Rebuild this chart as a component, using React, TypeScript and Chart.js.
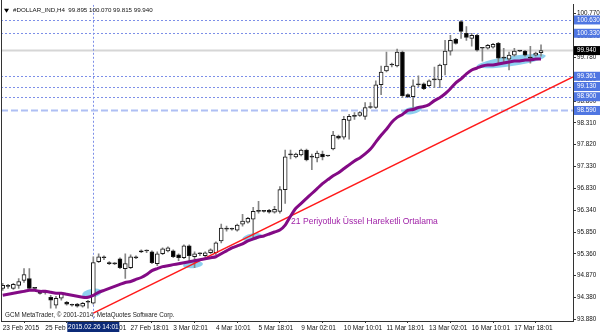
import React, { useEffect, useRef } from "react";
import { Chart, registerables } from "chart.js";
Chart.register(...registerables);

// ---- data (H4 candles, #DOLLAR_IND) ----
const OPEN = [
  94.581, 94.626, 94.581, 94.648, 94.759, 94.804, 94.581, 94.514, 94.492, 94.381,
  94.203, 94.359, 94.269, 94.203, 94.225, 94.180, 94.269, 94.247, 95.183, 95.271,
  95.160, 95.138, 95.249, 95.027, 95.049, 95.271, 95.427, 95.427, 95.405, 95.138,
  95.361, 95.427, 95.427, 95.338, 95.271, 95.539, 95.294, 95.361, 95.316, 95.383,
  95.383, 95.650, 95.917, 95.917, 95.895, 96.029, 96.073, 96.140, 96.318, 96.318,
  96.341, 96.296, 96.318, 96.808, 97.588, 97.543, 97.588, 97.699, 97.543, 97.521,
  97.610, 97.565, 97.721, 98.011, 97.989, 98.367, 98.456, 98.479, 98.456, 98.657,
  98.657, 99.169, 99.481, 99.614, 99.592, 99.904, 98.946, 98.901, 99.169, 99.192,
  99.147, 99.280, 99.280, 99.614, 99.926, 100.193, 100.594, 100.327, 100.216, 100.282,
  99.993, 99.993, 100.015, 100.104, 99.770, 99.748, 99.837, 99.926, 99.926, 99.770,
  99.837, 99.895,
];
const HIGH = [
  94.693, 94.670, 94.693, 94.804, 95.027, 95.027, 94.604, 94.537, 94.537, 94.425,
  94.403, 94.492, 94.292, 94.225, 94.247, 94.269, 94.314, 95.294, 95.361, 95.316,
  95.183, 95.160, 95.271, 95.361, 95.338, 95.316, 95.450, 95.450, 95.427, 95.405,
  95.494, 95.517, 95.450, 95.361, 95.561, 95.561, 95.405, 95.383, 95.405, 95.472,
  95.628, 96.029, 95.984, 95.940, 96.029, 96.251, 96.185, 96.407, 96.541, 96.341,
  96.363, 96.430, 96.875, 97.699, 97.699, 97.632, 97.721, 97.721, 97.610, 97.677,
  97.677, 97.575, 98.122, 98.033, 98.456, 98.501, 98.545, 98.567, 98.768, 98.768,
  99.258, 99.592, 99.904, 99.659, 99.971, 99.926, 98.967, 99.280, 99.369, 99.213,
  99.280, 99.570, 99.636, 100.171, 100.282, 100.216, 100.616, 100.483, 100.327, 100.305,
  100.015, 100.082, 100.104, 100.126, 99.993, 99.904, 99.993, 99.935, 99.948, 100.037,
  99.904, 100.070,
];
const LOW = [
  94.537, 94.581, 94.559, 94.581, 94.715, 94.537, 94.537, 94.448, 94.448, 94.136,
  94.136, 94.314, 94.203, 94.180, 94.158, 94.158, 94.136, 94.225, 95.160, 95.227,
  95.116, 95.116, 95.027, 94.804, 95.027, 95.249, 95.383, 95.383, 95.138, 95.093,
  95.338, 95.405, 95.271, 95.205, 95.249, 95.205, 95.049, 95.316, 95.294, 95.361,
  95.338, 95.606, 95.873, 95.895, 95.873, 95.984, 96.051, 95.717, 96.274, 96.296,
  96.274, 96.274, 96.274, 96.496, 97.499, 97.521, 97.565, 97.454, 97.254, 97.432,
  97.476, 97.555, 97.699, 97.944, 97.944, 97.944, 98.389, 98.456, 98.389, 98.634,
  98.634, 98.946, 99.458, 99.570, 99.570, 98.879, 98.879, 98.590, 99.124, 99.058,
  99.124, 99.102, 99.102, 99.392, 99.837, 100.082, 100.216, 100.171, 100.037, 99.926,
  99.703, 99.971, 99.993, 99.659, 99.659, 99.503, 99.815, 99.915, 99.815, 99.659,
  99.815, 99.815,
];
const CLOSE = [
  94.648, 94.630, 94.670, 94.737, 94.893, 94.581, 94.585, 94.470, 94.488, 94.314,
  94.359, 94.470, 94.225, 94.200, 94.180, 94.247, 94.272, 95.160, 95.294, 95.275,
  95.138, 95.135, 95.049, 95.138, 95.294, 95.268, 95.405, 95.424, 95.160, 95.361,
  95.472, 95.494, 95.294, 95.271, 95.539, 95.316, 95.361, 95.365, 95.383, 95.450,
  95.606, 95.940, 95.920, 95.913, 96.007, 96.096, 96.162, 96.318, 96.322, 96.315,
  96.296, 96.363, 96.808, 97.543, 97.592, 97.610, 97.699, 97.476, 97.540, 97.632,
  97.543, 97.570, 98.033, 97.966, 98.389, 98.456, 98.460, 98.545, 98.657, 98.660,
  99.169, 99.458, 99.592, 99.618, 99.904, 98.924, 98.901, 99.147, 99.172, 99.080,
  99.258, 99.284, 99.614, 99.926, 100.171, 100.104, 100.371, 100.238, 100.282, 99.948,
  99.996, 100.060, 100.082, 99.770, 99.774, 99.837, 99.926, 99.930, 99.837, 99.774,
  99.882, 99.940,
];
const EMA21 = [
  94.425, 94.448, 94.470, 94.492, 94.514, 94.537, 94.537, 94.514, 94.514, 94.492,
  94.470, 94.470, 94.448, 94.425, 94.403, 94.381, 94.381, 94.425, 94.492, 94.537,
  94.581, 94.626, 94.670, 94.715, 94.737, 94.782, 94.826, 94.893, 94.982, 95.027,
  95.071, 95.093, 95.116, 95.138, 95.160, 95.183, 95.205, 95.227, 95.249, 95.271,
  95.294, 95.361, 95.427, 95.494, 95.539, 95.583, 95.650, 95.695, 95.739, 95.762,
  95.806, 95.851, 95.895, 96.007, 96.207, 96.385, 96.496, 96.608, 96.719, 96.830,
  96.942, 97.031, 97.120, 97.187, 97.276, 97.365, 97.454, 97.521, 97.610, 97.721,
  97.877, 98.033, 98.167, 98.323, 98.434, 98.501, 98.590, 98.612, 98.657, 98.679,
  98.723, 98.812, 98.879, 98.967, 99.080, 99.213, 99.302, 99.414, 99.503, 99.547,
  99.592, 99.614, 99.614, 99.636, 99.659, 99.681, 99.703, 99.703, 99.726, 99.726,
  99.748, 99.748,
];

const X_TICKS = [0, 8, 16, 24, 32, 40, 48, 56, 64, 72, 80, 88, 96];
const X_LABELS = [
  "23 Feb 2015", "25 Feb 02:01", "26 Feb 10:01", "27 Feb 18:01", "3 Mar 02:01",
  "4 Mar 10:01", "5 Mar 18:01", "9 Mar 02:01", "10 Mar 10:01", "11 Mar 18:01",
  "13 Mar 02:01", "16 Mar 10:01", "17 Mar 18:01",
];
const Y_TICKS = [
  93.88, 94.38, 94.87, 95.36, 95.85, 96.34, 96.83, 97.33, 97.82, 98.31,
  98.8, 99.29, 99.78, 100.27, 100.77,
];
const X_MIN = -0.32;
const X_MAX = 107;
const Y_MIN = 93.846;
const Y_MAX = 100.972;

const TREND_X = [17, 107];
const TREND_Y = [94.024, 99.347];

const DOTTED_LEVELS = [100.63, 100.33, 99.361, 99.13, 98.9];
const DASHED_LEVELS = [98.59];
const CURRENT_PRICE = 99.94;
const MARKER_INDEX = 17;
const MARKER_LABEL = "2015.02.26 14:01";

// highlight ellipses: centre index, centre price, half-width px, half-height px, angle
const HL_X = [16.75, 35.7, 46.8, 76.8, 95.4];
const HL_Y = [94.47, 95.116, 95.739, 98.59, 99.703];
const HL_RX = [10, 10, 10, 10, 35];
const HL_RY = [4.5, 3.5, 3.5, 3.5, 5];
const HL_A = [-0.2, -0.1, -0.2, -0.2, -0.15];

const TITLE = "#DOLLAR_IND,H4  99.895 100.070 99.815 99.940";
const COPYRIGHT = "GCM MetaTrader, © 2001-2014, MetaQuotes Software Corp.";
const EMA_LABEL = "21 Periyotluk Üssel Hareketli Ortalama";
const EMA_LABEL_X = 54.1;
const EMA_LABEL_Y = 96.096;

const FONT = "'Liberation Sans', Arial, sans-serif";

function fitFont(ctx: CanvasRenderingContext2D, text: string, width: number) {
  ctx.font = `10px ${FONT}`;
  const w = ctx.measureText(text).width;
  return (10 * width) / w;
}

const overlayPlugin = {
  id: "mt4overlay",
  beforeDatasetsDraw(chart: any) {
    const { ctx, chartArea: a, scales } = chart;
    const xs = scales.x;
    const ys = scales.y;
    ctx.save();
    ctx.beginPath();
    ctx.rect(a.left, a.top, a.right - a.left, a.bottom - a.top);
    ctx.clip();
    // current price line
    let y = ys.getPixelForValue(CURRENT_PRICE);
    ctx.strokeStyle = "#d6d6d6";
    ctx.lineWidth = 2;
    ctx.setLineDash([]);
    ctx.beginPath();
    ctx.moveTo(a.left, y);
    ctx.lineTo(a.right, y);
    ctx.stroke();
    // dotted levels
    ctx.strokeStyle = "#7d8fe8";
    ctx.lineWidth = 1;
    ctx.setLineDash([2, 2]);
    DOTTED_LEVELS.forEach((v) => {
      const yy = Math.round(ys.getPixelForValue(v)) + 0.5;
      ctx.beginPath();
      ctx.moveTo(a.left, yy);
      ctx.lineTo(a.right, yy);
      ctx.stroke();
    });
    // vertical marker
    const mx = Math.round(xs.getPixelForValue(MARKER_INDEX)) + 0.5;
    ctx.beginPath();
    ctx.moveTo(mx, a.top);
    ctx.lineTo(mx, a.bottom);
    ctx.stroke();
    // dashed level
    ctx.strokeStyle = "#aebff4";
    ctx.lineWidth = 2;
    ctx.setLineDash([7, 3]);
    DASHED_LEVELS.forEach((v) => {
      const yy = ys.getPixelForValue(v);
      ctx.beginPath();
      ctx.moveTo(a.left, yy);
      ctx.lineTo(a.right, yy);
      ctx.stroke();
    });
    ctx.setLineDash([]);
    // highlight ellipses
    ctx.fillStyle = "#8ed0ef";
    HL_X.forEach((hx, k) => {
      ctx.beginPath();
      ctx.ellipse(xs.getPixelForValue(hx), ys.getPixelForValue(HL_Y[k]), HL_RX[k], HL_RY[k], HL_A[k], 0, Math.PI * 2);
      ctx.fill();
    });
    ctx.restore();
  },
  afterDraw(chart: any) {
    const { ctx, chartArea: a, scales, width } = chart;
    const xs = scales.x;
    const ys = scales.y;
    ctx.save();
    // left border
    ctx.strokeStyle = "#333";
    ctx.lineWidth = 1;
    ctx.beginPath();
    ctx.moveTo(a.left + 0.5, 0);
    ctx.lineTo(a.left + 0.5, a.bottom);
    ctx.stroke();
    // title
    ctx.fillStyle = "#000";
    ctx.beginPath();
    ctx.moveTo(a.left + 3, a.top + 4);
    ctx.lineTo(a.left + 8, a.top + 4);
    ctx.lineTo(a.left + 5.5, a.top + 8);
    ctx.closePath();
    ctx.fill();
    ctx.textBaseline = "middle";
    ctx.textAlign = "left";
    let fs = fitFont(ctx, TITLE, 140);
    ctx.font = `${fs}px ${FONT}`;
    ctx.fillStyle = "#111";
    ctx.fillText(TITLE, a.left + 12, a.top + 6);
    // copyright
    fs = fitFont(ctx, COPYRIGHT, 170);
    ctx.font = `${fs}px ${FONT}`;
    ctx.fillStyle = "#222";
    ctx.fillText(COPYRIGHT, a.left + 4, a.bottom - 6);
    // EMA label
    fs = fitFont(ctx, EMA_LABEL, 147);
    ctx.font = `${fs}px ${FONT}`;
    ctx.fillStyle = "#a023a8";
    ctx.fillText(EMA_LABEL, xs.getPixelForValue(EMA_LABEL_X), ys.getPixelForValue(EMA_LABEL_Y));
    // price boxes
    ctx.font = `6.3px ${FONT}`;
    const boxes = [...DOTTED_LEVELS, ...DASHED_LEVELS];
    boxes.forEach((v) => {
      const yy = ys.getPixelForValue(v);
      ctx.fillStyle = "#4f76e2";
      ctx.fillRect(a.right + 1, yy - 4.5, width - a.right - 1, 9);
      ctx.fillStyle = "#fff";
      ctx.fillText(v.toFixed(3), a.right + 4, yy);
    });
    const cy = ys.getPixelForValue(CURRENT_PRICE);
    ctx.fillStyle = "#000";
    ctx.fillRect(a.right + 1, cy - 4.5, width - a.right - 1, 9);
    ctx.fillStyle = "#fff";
    ctx.fillText(CURRENT_PRICE.toFixed(3), a.right + 4, cy);
    // marker label on time axis
    const mx = xs.getPixelForValue(MARKER_INDEX);
    ctx.fillStyle = "#0b2a78";
    ctx.fillRect(mx - 26, a.bottom + 1, 52, 10);
    ctx.fillStyle = "#fff";
    ctx.textAlign = "center";
    ctx.font = `6.5px ${FONT}`;
    ctx.fillText(MARKER_LABEL, mx, a.bottom + 6);
    ctx.restore();
  },
};

export default function App() {
  const ref = useRef<HTMLCanvasElement | null>(null);
  useEffect(() => {
    document.body.style.margin = "0";
    const canvas = ref.current;
    if (!canvas) return;
    const idx = OPEN.map((_, i) => i);
    const bodyColors = idx.map((i) => {
      const d = CLOSE[i] - OPEN[i];
      if (Math.abs(d) < 0.012) return "#222";
      return d > 0 ? "#ffffff" : "#000000";
    });
    const chart = new Chart(canvas, {
      type: "bar",
      data: {
        datasets: [
          {
            type: "line",
            label: "EMA21",
            data: EMA21.map((v, i) => ({ x: i, y: v })),
            borderColor: "#830a85",
            borderWidth: 3,
            pointRadius: 0,
            tension: 0.2,
            order: 0,
          } as any,
          {
            type: "line",
            label: "Trend",
            data: TREND_X.map((x, k) => ({ x, y: TREND_Y[k] })),
            borderColor: "#ff1a1a",
            borderWidth: 1.5,
            pointRadius: 0,
            order: 1,
          } as any,
          {
            type: "bar",
            label: "Body",
            data: idx.map((i) => ({ x: i, y: [OPEN[i], CLOSE[i]] })),
            backgroundColor: bodyColors,
            borderColor: "#1a1a1a",
            borderWidth: 1,
            borderSkipped: false,
            barThickness: 4,
            minBarLength: 1,
            grouped: false,
            order: 2,
          } as any,
          {
            type: "bar",
            label: "Wick",
            data: idx.map((i) => ({ x: i, y: [LOW[i], HIGH[i]] })),
            backgroundColor: "#858585",
            barThickness: 1,
            grouped: false,
            order: 3,
          } as any,
        ],
      },
      options: {
        responsive: false,
        maintainAspectRatio: false,
        animation: false,
        layout: { padding: { left: 1, top: 1, right: 0, bottom: 0 } },
        plugins: { legend: { display: false }, tooltip: { enabled: false } },
        scales: {
          x: {
            type: "linear",
            position: "bottom",
            min: X_MIN,
            max: X_MAX,
            offset: false,
            grid: { drawOnChartArea: false, drawTicks: true, tickLength: 2, color: "#333" },
            border: { display: true, color: "#333" },
            afterBuildTicks: (s: any) => {
              s.ticks = X_TICKS.map((v) => ({ value: v }));
            },
            afterFit: (s: any) => {
              s.height = 12;
            },
            ticks: {
              autoSkip: false,
              maxRotation: 0,
              minRotation: 0,
              align: "start",
              padding: 1,
              color: "#111",
              font: { size: 6.5, family: FONT },
              callback: (v: any) => {
                const k = X_TICKS.indexOf(Number(v));
                return k >= 0 ? X_LABELS[k] : "";
              },
            },
          },
          y: {
            type: "linear",
            position: "right",
            min: Y_MIN,
            max: Y_MAX,
            grid: { drawOnChartArea: false, drawTicks: true, tickLength: 3, color: "#333" },
            border: { display: true, color: "#333" },
            afterBuildTicks: (s: any) => {
              s.ticks = Y_TICKS.map((v) => ({ value: v }));
            },
            afterFit: (s: any) => {
              s.width = 27;
            },
            ticks: {
              autoSkip: false,
              padding: 1,
              color: "#111",
              font: { size: 6.3, family: FONT },
              callback: (v: any) => Number(v).toFixed(3),
            },
          },
        },
      } as any,
      plugins: [overlayPlugin],
    });
    return () => chart.destroy();
  }, []);
  return (
    <div style={{ width: 600, height: 333, background: "#fff" }}>
      <canvas ref={ref} width={600} height={333} style={{ display: "block", width: 600, height: 333 }} />
    </div>
  );
}
